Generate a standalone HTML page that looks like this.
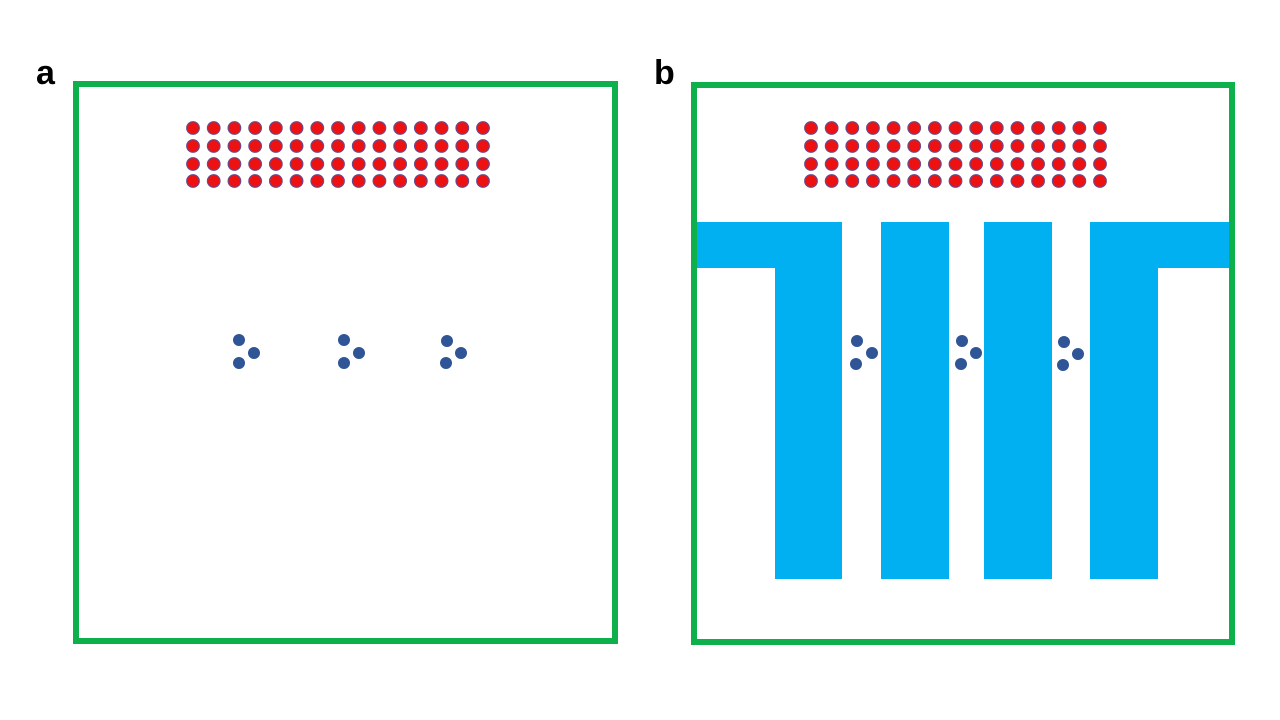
<!DOCTYPE html>
<html><head><meta charset="utf-8"><style>
html,body{margin:0;padding:0;background:#fff;width:1280px;height:720px;overflow:hidden}
svg{display:block}
</style></head><body>
<svg width="1280" height="720" viewBox="0 0 1280 720" xmlns="http://www.w3.org/2000/svg">
<rect width="1280" height="720" fill="#fff"/>
<text x="36" y="84" font-family="Liberation Sans, sans-serif" font-weight="bold" font-size="34" fill="#000">a</text>
<text x="654" y="84" font-family="Liberation Sans, sans-serif" font-weight="bold" font-size="34" fill="#000">b</text>
<rect x="76" y="84" width="539" height="557" fill="none" stroke="#0db04b" stroke-width="6"/>
<rect x="694" y="85" width="538" height="557" fill="none" stroke="#0db04b" stroke-width="6"/>
<g fill="#00b0f0">
<rect x="697" y="222" width="145" height="46"/>
<rect x="775" y="222" width="67" height="357"/>
<rect x="881" y="222" width="68" height="357"/>
<rect x="984" y="222" width="68" height="357"/>
<rect x="1090" y="222" width="139" height="46"/>
<rect x="1090" y="222" width="68" height="357"/>
</g>
<g id="reds" fill="#ee1111" stroke="#6a4a8a" stroke-width="1.2">
</g>
<g fill="#2f5597">
<circle cx="239" cy="340" r="6"/><circle cx="254" cy="353" r="6"/><circle cx="239" cy="363" r="6"/>
<circle cx="344" cy="340" r="6"/><circle cx="359" cy="353" r="6"/><circle cx="344" cy="363" r="6"/>
<circle cx="447" cy="341" r="6"/><circle cx="461" cy="353" r="6"/><circle cx="446" cy="363" r="6"/>
<circle cx="857" cy="341" r="6"/><circle cx="872" cy="353" r="6"/><circle cx="856" cy="364" r="6"/>
<circle cx="962" cy="341" r="6"/><circle cx="976" cy="353" r="6"/><circle cx="961" cy="364" r="6"/>
<circle cx="1064" cy="342" r="6"/><circle cx="1078" cy="354" r="6"/><circle cx="1063" cy="365" r="6"/>
</g>
</svg>
<script>
var g=document.getElementById('reds'),ns='http://www.w3.org/2000/svg';
var rows=[128,146,164,181];
[[193,483],[811,1100]].forEach(function(p){
for(var c=0;c<15;c++){var x=p[0]+(p[1]-p[0])*c/14;
rows.forEach(function(y){var e=document.createElementNS(ns,'circle');
e.setAttribute('cx',x);e.setAttribute('cy',y);e.setAttribute('r',6.3);g.appendChild(e);});}
});
</script>
</body></html>
